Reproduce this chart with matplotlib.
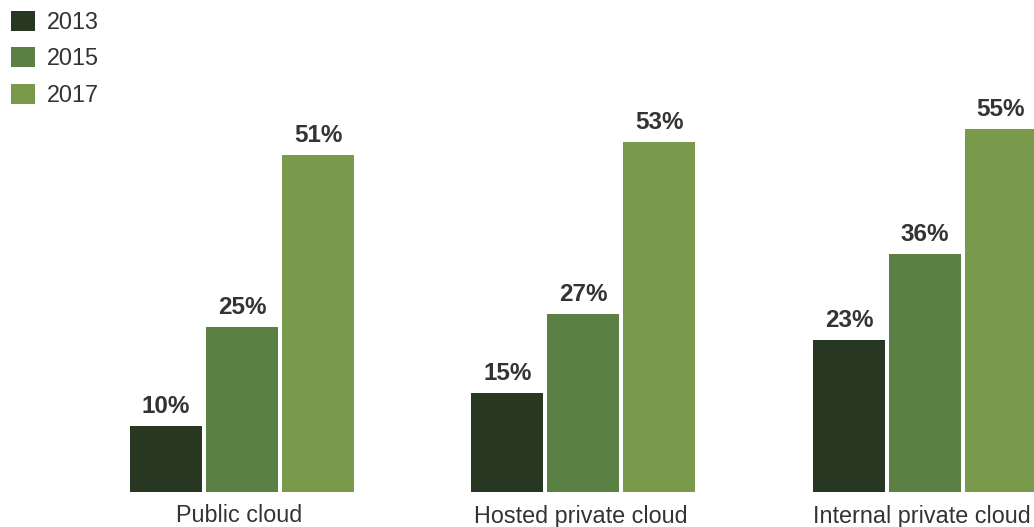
import matplotlib
matplotlib.use("Agg")
import matplotlib.pyplot as plt
import numpy as np

categories = ["Public cloud", "Hosted private cloud", "Internal private cloud"]
years = ["2013", "2015", "2017"]
values_2013 = [10, 15, 23]
values_2015 = [25, 27, 36]
values_2017 = [51, 53, 55]
colors = ["#283722", "#5b8043", "#789a4a"]

plt.rcParams['font.family'] = ['Liberation Sans', 'DejaVu Sans']

W, H = 1034, 527
fig = plt.figure(figsize=(W / 100, H / 100), dpi=100)
ax = fig.add_axes([0, 35 / H, 1, 1 - 35 / H])

group_px = 341.5
bw = 72 / group_px
step = 76 / group_px
x = np.arange(len(categories))
series = [values_2013, values_2015, values_2017]

for i, (vals, yr, col) in enumerate(zip(series, years, colors)):
    xs = x + (i - 1) * step
    ax.bar(xs, vals, width=bw, color=col, label=yr)
    for xx, v in zip(xs, vals):
        ax.annotate(f"{v}%", (xx, v), xytext=(0, 8), textcoords="offset pixels",
                    ha="center", va="bottom", fontsize=17.5, fontweight="bold",
                    color="#333333")

ax.set_xlim(-242 / group_px, 2 + 109 / group_px)
ax.set_ylim(0, 492 / 6.6)
ax.set_xticks(x - 3 / group_px)
ax.set_xticklabels(categories, fontsize=16.8, color="#333333")
ax.tick_params(axis="x", length=0, pad=9)
ax.set_yticks([])
for s in ax.spines.values():
    s.set_visible(False)
ax.patch.set_visible(False)

fig.legend(loc="upper left", bbox_to_anchor=(0.0, 1.0), frameon=False,
           fontsize=16.8, handlelength=1.05, handleheight=0.95,
           handletextpad=0.5, labelspacing=0.58, borderaxespad=0.0,
           borderpad=0.45, labelcolor="#333333")

fig.savefig("out.png", dpi=100)
